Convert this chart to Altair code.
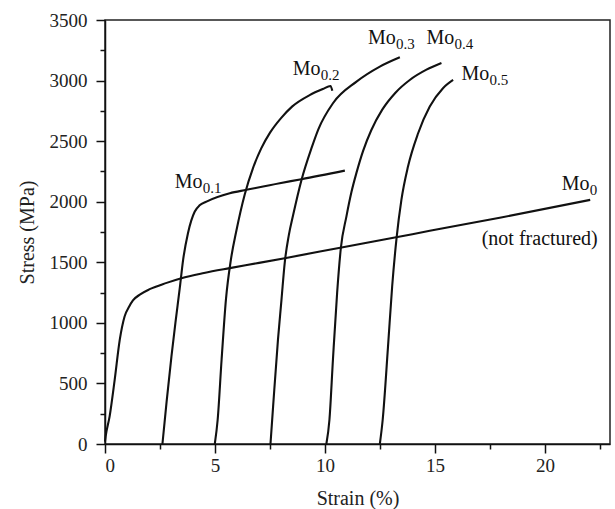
import altair as alt
import pandas as pd

# Stress-strain curves of the Mo-alloyed series; each curve is shifted along strain
alloys = ["Mo0", "Mo0.1", "Mo0.2", "Mo0.3", "Mo0.4", "Mo0.5"]

mo0_strain = [0.0, 0.03, 0.21, 0.44, 0.67, 0.89, 1.1, 1.27, 1.6, 2.03, 2.8, 3.47, 4.5, 5.67, 7.0, 8.17, 10.75, 13.17, 14.76, 18.0, 22.05]
mo0_stress = [20, 63, 228, 530, 860, 1053, 1135, 1185, 1235, 1278, 1330, 1369, 1412, 1452, 1495, 1534, 1622, 1704, 1760, 1870, 2015]

mo01_strain = [2.61, 2.8, 3.02, 3.2, 3.4, 3.55, 3.77, 4.08, 4.3, 4.61, 5.67, 6.43, 7.94, 8.93, 10.9]
mo01_stress = [0, 350, 723, 1000, 1290, 1520, 1740, 1919, 1970, 2001, 2070, 2098, 2153, 2186, 2257]

mo02_strain = [4.99, 5.12, 5.3, 5.5, 5.72, 5.97, 6.35, 6.73, 7.1, 7.5, 8.0, 8.5, 9.3, 9.9, 10.25, 10.33]
mo02_stress = [0, 200, 700, 1200, 1520, 1760, 2060, 2280, 2440, 2570, 2690, 2785, 2880, 2930, 2955, 2915]

mo03_strain = [7.52, 7.64, 7.86, 8.02, 8.17, 8.35, 8.55, 8.93, 9.38, 9.7, 10.36, 11.43, 12.49, 13.4]
mo03_stress = [0, 310, 860, 1190, 1500, 1720, 1890, 2180, 2440, 2600, 2813, 2991, 3115, 3192]

mo04_strain = [10.06, 10.2, 10.36, 10.55, 10.72, 10.97, 11.2, 11.43, 11.73, 12.1, 12.6, 13.2, 13.85, 14.61, 15.29]
mo04_stress = [0, 200, 700, 1250, 1620, 1877, 2080, 2240, 2420, 2590, 2760, 2900, 3005, 3090, 3145]

mo05_strain = [12.49, 12.62, 12.86, 13.05, 13.25, 13.47, 13.77, 14.23, 14.76, 15.36, 15.82]
mo05_stress = [0, 200, 800, 1300, 1699, 2015, 2290, 2565, 2785, 2937, 3005]

# Curve labels: main text, subscript, anchor in data units (left edge, baseline)
label_main = ["Mo", "Mo", "Mo", "Mo", "Mo", "Mo"]
label_sub = ["0", "0.1", "0.2", "0.3", "0.4", "0.5"]
label_x = [20.76, 3.17, 8.53, 11.95, 14.61, 16.2]
label_y = [2097, 2114, 3046, 3300, 3300, 3005]

note_text = ["(not fractured)"]
note_x = [17.12]
note_y = [1644]

x_ticks = [0, 2.5, 5, 7.5, 10, 12.5, 15, 17.5, 20, 22.5]
y_ticks = list(range(0, 3501, 250))

series = [mo0_strain, mo01_strain, mo02_strain, mo03_strain, mo04_strain, mo05_strain]
values = [mo0_stress, mo01_stress, mo02_stress, mo03_stress, mo04_stress, mo05_stress]

rows = []
for name, xs, ys in zip(alloys, series, values):
    for i, (sx, sy) in enumerate(zip(xs, ys)):
        rows.append({"alloy": name, "strain": sx, "stress": sy, "idx": i})
curves = pd.DataFrame(rows)

labels = pd.DataFrame({"main": label_main, "sub": label_sub, "strain": label_x, "stress": label_y})
notes = pd.DataFrame({"text": note_text, "strain": note_x, "stress": note_y})

FONT = "Liberation Serif"
x_scale = alt.Scale(domain=[0, 22.95], nice=False, zero=False)
y_scale = alt.Scale(domain=[0, 3500], nice=False, zero=False)

x_axis = alt.Axis(
    values=x_ticks,
    labelExpr="datum.value % 5 === 0 ? datum.label : ''",
    tickSize={"condition": {"test": "datum.value % 5 !== 0", "value": 5}, "value": 9},
    labelPadding=3,
    grid=False,
    title="Strain (%)",
    titlePadding=13,
)
y_axis = alt.Axis(
    values=y_ticks,
    labelExpr="datum.value % 500 === 0 ? datum.label : ''",
    tickSize={"condition": {"test": "datum.value % 500 !== 0", "value": 5}, "value": 9},
    labelPadding=9,
    grid=False,
    format="d",
    title="Stress (MPa)",
    titlePadding=12,
)

x_enc = alt.X("strain:Q", scale=x_scale, axis=x_axis)
y_enc = alt.Y("stress:Q", scale=y_scale, axis=y_axis)

lines = alt.Chart(curves).mark_line(
    color="#111111", strokeWidth=2.1, interpolate="monotone"
).encode(
    x=x_enc,
    y=y_enc,
    detail="alloy:N",
    order="idx:Q",
)

main_text = alt.Chart(labels).mark_text(
    font=FONT, fontSize=20, align="left", baseline="alphabetic", color="#111111"
).encode(x=x_enc, y=y_enc, text="main:N")

sub_text = alt.Chart(labels).mark_text(
    font=FONT, fontSize=15, align="left", baseline="alphabetic", color="#111111", dx=28, dy=5
).encode(x=x_enc, y=y_enc, text="sub:N")

note = alt.Chart(notes).mark_text(
    font=FONT, fontSize=20, align="left", baseline="alphabetic", color="#111111"
).encode(x=x_enc, y=y_enc, text="text:N")

chart = alt.layer(lines, main_text, sub_text, note).properties(
    width=505,
    height=424,
    padding={"left": 105, "top": 20, "right": 5, "bottom": 65},
    autosize=alt.AutoSizeParams(type="none"),
    background="white",
).configure_view(
    stroke="#222222", strokeWidth=1.5
).configure_axis(
    domainColor="#111111",
    domainWidth=1.5,
    tickColor="#111111",
    tickWidth=1.5,
    labelFont=FONT,
    labelFontSize=19,
    labelColor="#222222",
    titleFont=FONT,
    titleFontSize=20,
    titleFontWeight="normal",
    titleColor="#222222",
)

chart.save("out.html", embed_options={"renderer": "svg", "actions": False})
